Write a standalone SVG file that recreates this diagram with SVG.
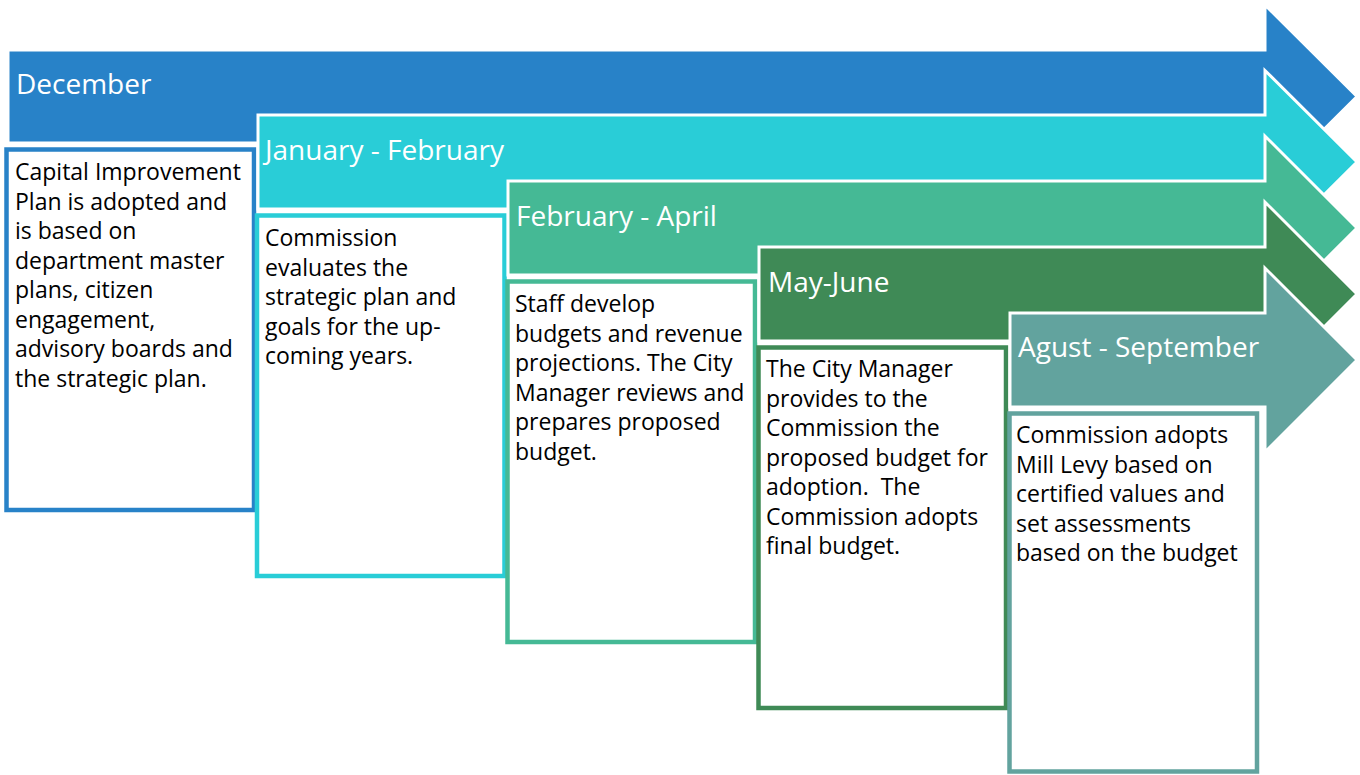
<svg xmlns="http://www.w3.org/2000/svg" width="1360" height="775" viewBox="0 0 1360 775">
  <style>
    .arrow { stroke: #ffffff; stroke-width: 3; stroke-linejoin: miter; }
    .box { fill: #ffffff; stroke-width: 4.5; }
    .head { font-family: "Open Sans", "Noto Sans", sans-serif; font-size: 28px; fill: #ffffff; }
    .body { font-family: "Open Sans", "Noto Sans", sans-serif; font-size: 23px; fill: #000000; }
    .c1 { fill: #2882C8; } .s1 { stroke: #2882C8; }
    .c2 { fill: #29CDD7; } .s2 { stroke: #29CDD7; }
    .c3 { fill: #45B995; } .s3 { stroke: #45B995; }
    .c4 { fill: #3F8A56; } .s4 { stroke: #3F8A56; }
    .c5 { fill: #62A39E; } .s5 { stroke: #62A39E; }
  </style>

  <!-- Phase 1: December -->
  <g id="december">
    <path class="arrow c1" d="M8,50 H1265 V5 L1357,96.5 L1265,188 V143 H8 Z"/>
    <rect class="box s1" x="6.5" y="149.5" width="247.5" height="360.5"/>
    <text class="head" x="16" y="94">December</text>
    <text class="body">
      <tspan x="15" y="180">Capital Improvement</tspan>
      <tspan x="15" y="209.5">Plan is adopted and</tspan>
      <tspan x="15" y="239">is based on</tspan>
      <tspan x="15" y="268.5">department master</tspan>
      <tspan x="15" y="298">plans, citizen</tspan>
      <tspan x="15" y="327.5">engagement,</tspan>
      <tspan x="15" y="357">advisory boards and</tspan>
      <tspan x="15" y="386.5">the strategic plan.</tspan>
    </text>
  </g>

  <!-- Phase 2: January - February -->
  <g id="january-february">
    <path class="arrow c2" d="M258,115 H1265 V70.5 L1357,162 L1265,253.5 V209 H258 Z"/>
    <rect class="box s2" x="257" y="215.5" width="247.5" height="360.5"/>
    <text class="head" x="265" y="160">January - February</text>
    <text class="body">
      <tspan x="265" y="246">Commission</tspan>
      <tspan x="265" y="275.5">evaluates the</tspan>
      <tspan x="265" y="305">strategic plan and</tspan>
      <tspan x="265" y="334.5">goals for the up-</tspan>
      <tspan x="265" y="364">coming years.</tspan>
    </text>
  </g>

  <!-- Phase 3: February - April -->
  <g id="february-april">
    <path class="arrow c3" d="M508,181 H1265 V136 L1357,228 L1265,320 V275 H508 Z"/>
    <rect class="box s3" x="507.5" y="281.5" width="247.5" height="360.5"/>
    <text class="head" x="516" y="226">February - April</text>
    <text class="body">
      <tspan x="515" y="312">Staff develop</tspan>
      <tspan x="515" y="341.5">budgets and revenue</tspan>
      <tspan x="515" y="371">projections. The City</tspan>
      <tspan x="515" y="400.5">Manager reviews and</tspan>
      <tspan x="515" y="430">prepares proposed</tspan>
      <tspan x="515" y="459.5">budget.</tspan>
    </text>
  </g>

  <!-- Phase 4: May-June -->
  <g id="may-june">
    <path class="arrow c4" d="M759,247 H1265 V202 L1357,294 L1265,386 V341 H759 Z"/>
    <rect class="box s4" x="758.5" y="347.5" width="247.5" height="360.5"/>
    <text class="head" x="768" y="292">May-June</text>
    <text class="body">
      <tspan x="766" y="377">The City Manager</tspan>
      <tspan x="766" y="406.5">provides to the</tspan>
      <tspan x="766" y="436">Commission the</tspan>
      <tspan x="766" y="465.5">proposed budget for</tspan>
      <tspan x="766" y="495" xml:space="preserve">adoption.  The</tspan>
      <tspan x="766" y="524.5">Commission adopts</tspan>
      <tspan x="766" y="554">final budget.</tspan>
    </text>
  </g>

  <!-- Phase 5: August - September -->
  <g id="august-september">
    <path class="arrow c5" d="M1010,313 H1265 V268 L1357,360 L1265,452 V407 H1010 Z"/>
    <rect class="box s5" x="1009.5" y="413.5" width="247.5" height="358"/>
    <text class="head" x="1018" y="357">Agust - September</text>
    <text class="body">
      <tspan x="1016" y="443">Commission adopts</tspan>
      <tspan x="1016" y="472.5">Mill Levy based on</tspan>
      <tspan x="1016" y="502">certified values and</tspan>
      <tspan x="1016" y="531.5">set assessments</tspan>
      <tspan x="1016" y="561">based on the budget</tspan>
    </text>
  </g>

  <g id="connectors"/>
</svg>
